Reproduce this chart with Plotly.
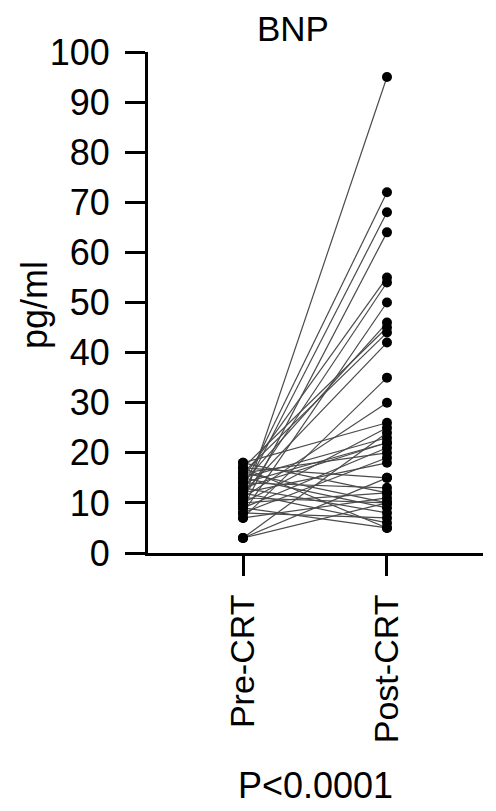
import plotly.graph_objects as go

# paired BNP values (pg/ml), one entry per patient
groups = ["Pre-CRT", "Post-CRT"]
pre_crt = [10, 13, 12, 9, 15, 11, 8, 14, 17, 16, 12, 7, 11, 18, 10, 3, 15, 13,
           9, 16, 8, 12, 17, 3, 14, 18, 10, 7, 16, 11, 15, 13, 8, 12, 17, 3, 9, 14]
post_crt = [95, 72, 68, 64, 55, 54, 50, 46, 45, 44, 42, 35, 30, 26, 25, 24, 23, 22,
            21, 20, 19, 18, 15, 15, 13, 12, 12, 11, 10, 10, 9, 8, 7, 6, 5, 10, 5, 22]
y_ticks = list(range(0, 101, 10))
p_text = "P<0.0001"

FONT = "Liberation Sans, Arial, Helvetica, sans-serif"
FS = 36

# build line segments with gaps between patients
xs, ys = [], []
for a, b in zip(pre_crt, post_crt):
    xs += [groups[0], groups[1], None]
    ys += [a, b, None]

fig = go.Figure()
fig.add_trace(go.Scatter(
    x=xs, y=ys, mode="lines",
    line=dict(color="#4a4a4a", width=1.2),
    hoverinfo="skip", showlegend=False,
))
fig.add_trace(go.Scatter(
    x=[groups[0]] * len(pre_crt), y=pre_crt, mode="markers",
    marker=dict(color="black", size=10), showlegend=False,
))
fig.add_trace(go.Scatter(
    x=[groups[1]] * len(post_crt), y=post_crt, mode="markers",
    marker=dict(color="black", size=10), showlegend=False,
))

fig.update_layout(
    width=496, height=811,
    margin=dict(l=140, r=21, t=44, b=266),
    paper_bgcolor="white", plot_bgcolor="white",
    font=dict(family=FONT, size=FS, color="black"),
)

fig.update_xaxes(
    type="category", categoryorder="array", categoryarray=groups,
    range=[-0.66, 1.667],
    showline=True, linecolor="black", linewidth=3,
    ticks="outside", ticklen=20, tickwidth=3, tickcolor="black",
    tickangle=-90, ticklabelstandoff=5, tickfont=dict(size=34),
    showgrid=False, zeroline=False,
)
fig.update_yaxes(
    range=[0, 100], tickvals=y_ticks,
    showline=True, linecolor="black", linewidth=3,
    ticks="outside", ticklen=20, tickwidth=3, tickcolor="black",
    ticklabelstandoff=8,
    showgrid=False, zeroline=False,
)

fig.add_annotation(text="BNP", xref="paper", yref="paper", x=0.433, y=1.046,
                   font=dict(size=35),
                   showarrow=False, xanchor="center", yanchor="middle")
fig.add_annotation(text="pg/ml", xref="paper", yref="paper", x=-0.34, y=0.495,
                   textangle=-90, showarrow=False, xanchor="center", yanchor="middle")
fig.add_annotation(text=p_text, xref="paper", yref="paper", x=0.50, y=-0.465,
                   showarrow=False, xanchor="center", yanchor="middle")

fig.write_html("out.html")
